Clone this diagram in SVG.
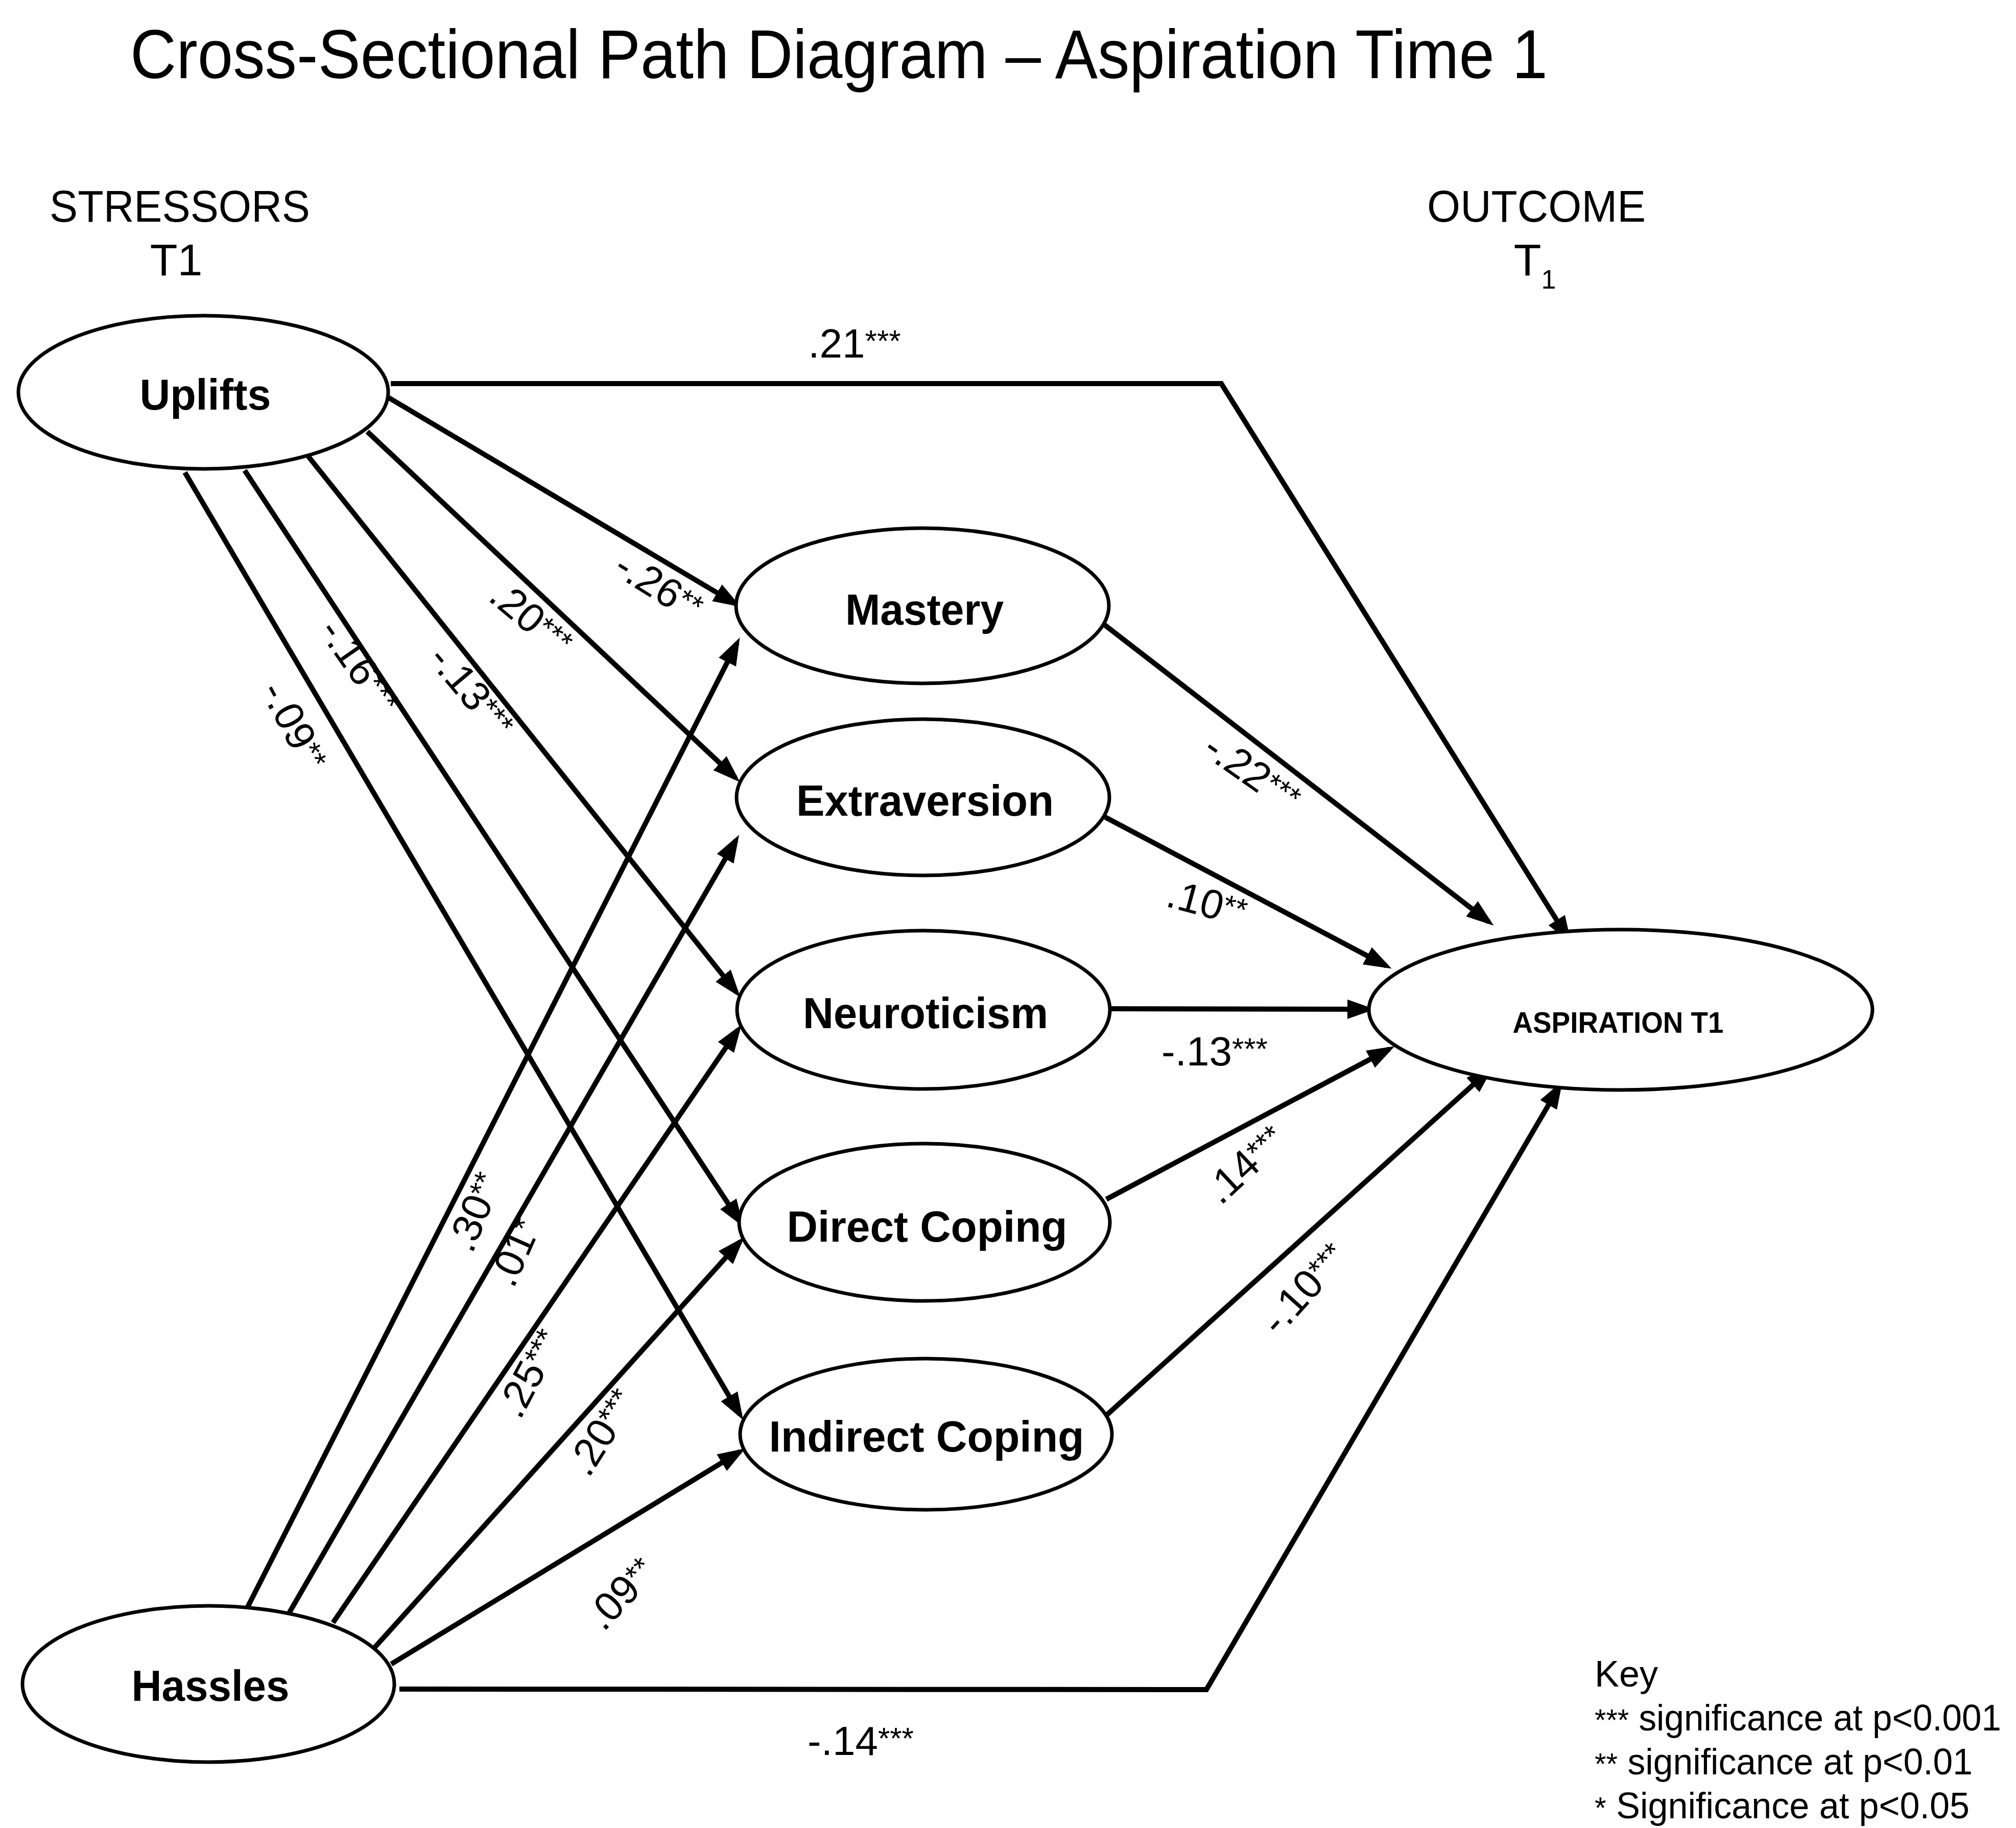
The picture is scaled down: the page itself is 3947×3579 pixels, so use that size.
<svg xmlns="http://www.w3.org/2000/svg" width="3947" height="3579" viewBox="0 0 3947 3579">
  <style>
    .bg { fill: #ffffff; }
    .node { fill: #ffffff; stroke: #000000; stroke-width: 7; }
    .edge { fill: none; stroke: #000000; stroke-width: 10; stroke-linejoin: miter; }
    .arrow { marker-end: url(#head); }
    .title { font-family: "Liberation Sans", Arial, sans-serif; font-size: 135px; fill: #000; }
    .head { font-family: "Liberation Sans", Arial, sans-serif; font-size: 88px; fill: #000; text-anchor: middle; }
    .lbl { font-family: "Liberation Sans", Arial, sans-serif; font-size: 86px; font-weight: bold; fill: #000; text-anchor: middle; }
    .lbl-sm { font-family: "Liberation Sans", Arial, sans-serif; font-size: 57px; font-weight: bold; fill: #000; text-anchor: middle; }
    .coef { font-family: "Liberation Sans", Arial, sans-serif; font-size: 80px; fill: #000; text-anchor: middle; }
    .st { font-size: 60px; }
    .key { font-family: "Liberation Sans", Arial, sans-serif; font-size: 72px; fill: #000; }
  </style>
  <defs>
    <marker id="head" markerUnits="userSpaceOnUse" markerWidth="56" markerHeight="40" refX="42" refY="19" orient="auto">
      <path d="M0,0 L54,19 L0,38 z" fill="#000"/>
    </marker>
  </defs>

  <rect class="bg" x="0" y="0" width="3947" height="3579"/>

  <!-- headings -->
  <text class="title" x="255" y="153" textLength="2775" lengthAdjust="spacingAndGlyphs">Cross-Sectional Path Diagram – Aspiration Time 1</text>
  <text class="head" x="352" y="434" textLength="510" lengthAdjust="spacingAndGlyphs">STRESSORS</text>
  <text class="head" x="345" y="539">T1</text>
  <text class="head" x="3008" y="434" textLength="428" lengthAdjust="spacingAndGlyphs">OUTCOME</text>
  <text class="head" x="3005" y="539">T<tspan font-size="52" dy="26">1</tspan></text>

  <!-- connectors -->
  <g id="connectors">
    <!-- from Uplifts -->
    <polyline class="edge arrow" points="765,751 2391,751 3070,1837"/>
    <line class="edge arrow" x1="760" y1="778" x2="1440" y2="1182"/>
    <line class="edge arrow" x1="719" y1="845" x2="1440" y2="1523"/>
    <line class="edge arrow" x1="592" y1="879" x2="1442" y2="1943"/>
    <line class="edge arrow" x1="479" y1="921" x2="1449" y2="2392"/>
    <line class="edge arrow" x1="362" y1="925" x2="1449" y2="2770"/>
    <!-- from Hassles -->
    <polyline class="edge arrow" points="782,3307 2362,3308 3053,2127"/>
    <line class="edge arrow" x1="484" y1="3148" x2="1443" y2="1259"/>
    <line class="edge arrow" x1="566" y1="3158" x2="1441" y2="1645"/>
    <line class="edge arrow" x1="652" y1="3177" x2="1445" y2="2016"/>
    <line class="edge arrow" x1="734" y1="3225" x2="1449" y2="2431"/>
    <line class="edge arrow" x1="766" y1="3258" x2="1449" y2="2842"/>
    <!-- mediators to outcome -->
    <line class="edge arrow" x1="2162" y1="1223" x2="2915" y2="1805"/>
    <line class="edge arrow" x1="2164" y1="1600" x2="2714" y2="1891"/>
    <line class="edge arrow" x1="2171" y1="1975" x2="2680" y2="1976"/>
    <line class="edge arrow" x1="2166" y1="2348" x2="2720" y2="2054"/>
    <line class="edge arrow" x1="2165" y1="2772" x2="2915" y2="2096"/>
  </g>

  <!-- path coefficients -->
  <g id="coefficients">
    <text class="coef" x="1673" y="700">.21<tspan class="st" dy="-12">***</tspan></text>
    <text class="coef" transform="translate(1290,1148) rotate(32)" y="27">-.26<tspan class="st" dy="-12">**</tspan></text>
    <text class="coef" transform="translate(1040,1211) rotate(40)" y="27">.20<tspan class="st" dy="-12">***</tspan></text>
    <text class="coef" transform="translate(923,1354) rotate(50)" y="27">-.13<tspan class="st" dy="-12">***</tspan></text>
    <text class="coef" transform="translate(704,1305) rotate(55)" y="27">-.16<tspan class="st" dy="-12">***</tspan></text>
    <text class="coef" transform="translate(576,1421) rotate(62)" y="27">-.09<tspan class="st" dy="-12">**</tspan></text>
    <text class="coef" transform="translate(929,2373) rotate(-68)" y="27">.30<tspan class="st" dy="-12">**</tspan></text>
    <text class="coef" transform="translate(1008,2452) rotate(-66)" y="27">.01<tspan class="st" dy="-12">*</tspan></text>
    <text class="coef" transform="translate(1037,2689) rotate(-62)" y="27">.25<tspan class="st" dy="-12">***</tspan></text>
    <text class="coef" transform="translate(1178,2804) rotate(-58)" y="27">.20<tspan class="st" dy="-12">***</tspan></text>
    <text class="coef" transform="translate(1216,3120) rotate(-47)" y="27">.09<tspan class="st" dy="-12">**</tspan></text>
    <text class="coef" x="1685" y="3436">-.14<tspan class="st" dy="-12">***</tspan></text>
    <text class="coef" transform="translate(2452,1513) rotate(35)" y="27">-.22<tspan class="st" dy="-12">***</tspan></text>
    <text class="coef" transform="translate(2363,1768) rotate(15)" y="27">.10<tspan class="st" dy="-12">**</tspan></text>
    <text class="coef" x="2378" y="2086">-.13<tspan class="st" dy="-12">***</tspan></text>
    <text class="coef" transform="translate(2438,2280) rotate(-43)" y="27">.14<tspan class="st" dy="-12">***</tspan></text>
    <text class="coef" transform="translate(2553,2523) rotate(-48)" y="27">-.10<tspan class="st" dy="-12">***</tspan></text>
  </g>

  <!-- nodes -->
  <g id="uplifts">
    <ellipse class="node" cx="398" cy="768" rx="362" ry="150"/>
    <text class="lbl" x="402" y="802" textLength="257" lengthAdjust="spacingAndGlyphs">Uplifts</text>
  </g>
  <g id="hassles">
    <ellipse class="node" cx="408" cy="3297" rx="364" ry="153"/>
    <text class="lbl" x="412" y="3330" textLength="309" lengthAdjust="spacingAndGlyphs">Hassles</text>
  </g>
  <g id="mastery">
    <ellipse class="node" cx="1806" cy="1186" rx="365" ry="152"/>
    <text class="lbl" x="1810" y="1223" textLength="310" lengthAdjust="spacingAndGlyphs">Mastery</text>
  </g>
  <g id="extraversion">
    <ellipse class="node" cx="1807" cy="1561" rx="365" ry="153"/>
    <text class="lbl" x="1811" y="1597" textLength="504" lengthAdjust="spacingAndGlyphs">Extraversion</text>
  </g>
  <g id="neuroticism">
    <ellipse class="node" cx="1808" cy="1977" rx="365" ry="155"/>
    <text class="lbl" x="1812" y="2013" textLength="480" lengthAdjust="spacingAndGlyphs">Neuroticism</text>
  </g>
  <g id="direct-coping">
    <ellipse class="node" cx="1810" cy="2393" rx="363" ry="154"/>
    <text class="lbl" x="1815" y="2431" textLength="549" lengthAdjust="spacingAndGlyphs">Direct Coping</text>
  </g>
  <g id="indirect-coping">
    <ellipse class="node" cx="1813" cy="2808" rx="364" ry="148"/>
    <text class="lbl" x="1814" y="2842" textLength="617" lengthAdjust="spacingAndGlyphs">Indirect Coping</text>
  </g>
  <g id="aspiration">
    <ellipse class="node" cx="3173" cy="1977" rx="493" ry="157"/>
    <text class="lbl-sm" x="3168" y="2022" textLength="413" lengthAdjust="spacingAndGlyphs">ASPIRATION T1</text>
  </g>

  <!-- key -->
  <g id="key">
    <text class="key" x="3122" y="3302">Key</text>
    <text class="key" x="3122" y="3388" textLength="796" lengthAdjust="spacingAndGlyphs"><tspan class="st">***</tspan> significance at p&lt;0.001</text>
    <text class="key" x="3122" y="3474" textLength="740" lengthAdjust="spacingAndGlyphs"><tspan class="st">**</tspan> significance at p&lt;0.01</text>
    <text class="key" x="3122" y="3560" textLength="734" lengthAdjust="spacingAndGlyphs"><tspan class="st">*</tspan> Significance at p&lt;0.05</text>
  </g>
</svg>
